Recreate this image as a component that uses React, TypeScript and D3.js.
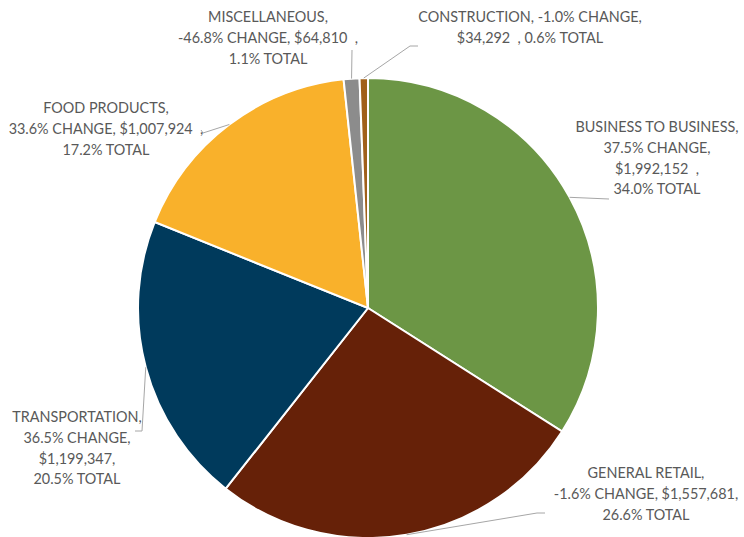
import React, { useEffect, useRef } from "react";
import * as d3 from "d3";

// Sales by category pie with leader-line labels, drawn with D3.
const categories = [
  "BUSINESS TO BUSINESS",
  "GENERAL RETAIL",
  "TRANSPORTATION",
  "FOOD PRODUCTS",
  "MISCELLANEOUS",
  "CONSTRUCTION",
];
const sales = [1992152, 1557681, 1199347, 1007924, 64810, 34292];
const changes = ["37.5%", "-1.6%", "36.5%", "33.6%", "-46.8%", "-1.0%"];
const colors = ["#6c9645", "#662108", "#003a5c", "#f9b12b", "#8c8c8c", "#a0601a"];

// label text lines, per slice
const labelLines = [
  ["BUSINESS TO BUSINESS,", "37.5% CHANGE,", "$1,992,152  ,", "34.0% TOTAL"],
  ["GENERAL RETAIL,", "-1.6% CHANGE, $1,557,681,", "26.6% TOTAL"],
  ["TRANSPORTATION,", "36.5% CHANGE,", "$1,199,347,", "20.5% TOTAL"],
  ["FOOD PRODUCTS,", "33.6% CHANGE, $1,007,924  ,", "17.2% TOTAL"],
  ["MISCELLANEOUS,", "-46.8% CHANGE, $64,810  ,", "1.1% TOTAL"],
  ["CONSTRUCTION, -1.0% CHANGE,", "$34,292  , 0.6% TOTAL"],
];

// layout: label centre x, first baseline y, leader line bend points
const labelLayout = [
  { x: 657, y: 132, line: [[609, 199]] },
  { x: 646, y: 478, line: [[537, 513], [545, 513]] },
  { x: 77, y: 422, line: [[142, 431], [135, 431]] },
  { x: 106, y: 113, line: [[203, 133], [201, 130]] },
  { x: 268, y: 22, line: [[352, 50]] },
  { x: 530, y: 22, line: [[410, 46], [418, 46]] },
];

export default function App() {
  const ref = useRef<SVGSVGElement>(null);

  useEffect(() => {
    const svg = d3.select(ref.current);
    svg.selectAll("*").remove();

    const cx = 368;
    const cy = 308;
    const r = 230;

    const rows = categories.map((c, i) => ({ name: c, value: sales[i], change: changes[i], i }));
    const pie = d3.pie<any>().sort(null).value((d) => d.value);
    const arcs = pie(rows);
    const arc = d3.arc<any>().innerRadius(0).outerRadius(r);

    const g = svg.append("g").attr("transform", `translate(${cx},${cy})`);
    g.selectAll("path")
      .data(arcs)
      .join("path")
      .attr("d", arc)
      .attr("fill", (d) => colors[d.data.i])
      .attr("stroke", "#fff")
      .attr("stroke-width", 2);

    // leader lines
    const line = d3.line();
    arcs.forEach((a) => {
      const mid = (a.startAngle + a.endAngle) / 2;
      const start: [number, number] = [cx + r * Math.sin(mid), cy - r * Math.cos(mid)];
      const pts = [start, ...(labelLayout[a.data.i].line as [number, number][])];
      svg
        .append("path")
        .attr("d", line(pts))
        .attr("fill", "none")
        .attr("stroke", "#a6a6a6")
        .attr("stroke-width", 1);
    });

    // labels
    labelLines.forEach((lines, i) => {
      const lay = labelLayout[i];
      const t = svg
        .append("text")
        .attr("text-anchor", "middle")
        .attr("font-family", "Lato, 'Open Sans', sans-serif")
        .attr("font-size", 14.4)
        .attr("fill", "#595959")
        .style("white-space", "pre");
      lines.forEach((s, k) => {
        t.append("tspan")
          .attr("x", lay.x)
          .attr("y", lay.y + k * 20.8)
          .text(s);
      });
    });
  }, []);

  return (
    <svg
      ref={ref}
      width={744}
      height={537}
      style={{ position: "absolute", left: 0, top: 0, background: "#fff" }}
    />
  );
}
